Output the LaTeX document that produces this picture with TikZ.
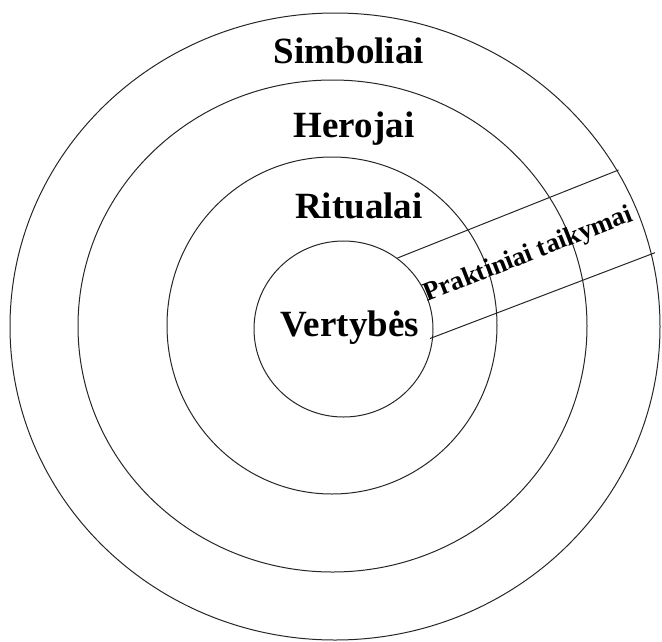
\documentclass[tikz,border=0pt]{standalone}
\usepackage{fontspec}
\setmainfont{Liberation Serif}
\begin{document}
\begin{tikzpicture}[x=1pt,y=-1pt,
  ring/.style={draw=black!85,line width=1pt},
  band/.style={draw=black!85,line width=1pt},
  lbl/.style={anchor=base,inner sep=0pt,font=\fontsize{37}{44}\selectfont\bfseries},
  slbl/.style={anchor=base,inner sep=0pt,rotate=21.5,font=\fontsize{26.5}{30}\selectfont\bfseries}]
\useasboundingbox (0,0) rectangle (662,641);
% rings
\draw[ring] (335,326.5) ellipse [x radius=325, y radius=313.5];
\draw[ring] (332.5,326) ellipse [x radius=254.5, y radius=246];
\draw[ring] (332,325.5) ellipse [x radius=165, y radius=168.5];
\draw[ring] (343.5,329) ellipse [x radius=89.5, y radius=88];
% band
\coordinate (u1) at (397.5,258);
\coordinate (u2) at (618.5,170);
\coordinate (l1) at (430,338.5);
\coordinate (l2) at (655,252.7);
\draw[band] (u1) -- (u2);
\draw[band] (l1) -- (l2);
% labels
\node[lbl] (sim) at (349,63) {Simboliai};
\node[lbl] (her) at (354,137) {Herojai};
\node[lbl] (rit) at (359,218) {Ritualai};
\node[lbl] (ver) at (349.7,336.7) {Vertybės};
\node[slbl] (pra) at (531,261) {Praktiniai taikymai};
\end{tikzpicture}
\end{document}
